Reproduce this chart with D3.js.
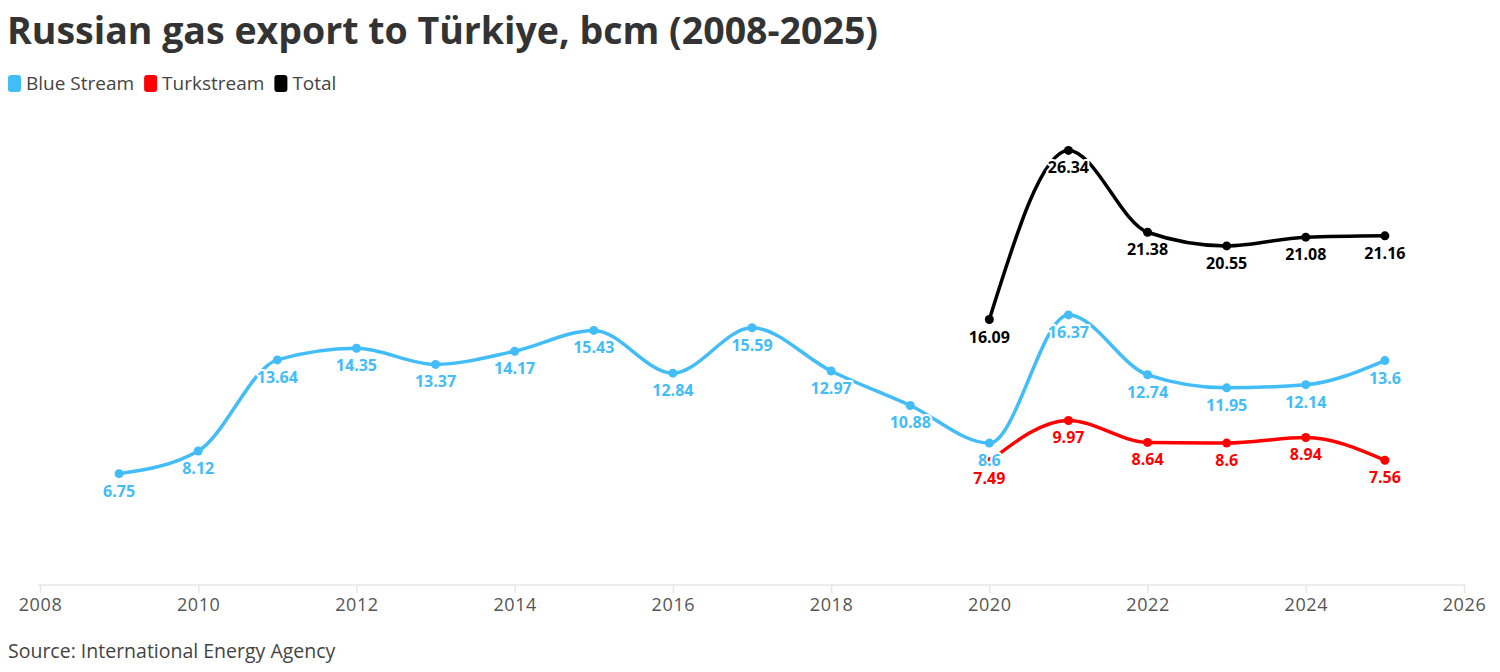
<!DOCTYPE html>
<html>
<head>
<meta charset="utf-8">
<script src="https://cdn.jsdelivr.net/npm/d3@7"></script>
<style>
  body { margin: 0; background: #fff; font-family: "Open Sans", sans-serif; }
  svg text { font-family: "Open Sans", sans-serif; }
</style>
</head>
<body>
<main></main>
<script>
// data
const blueYears = [2009, 2010, 2011, 2012, 2013, 2014, 2015, 2016, 2017, 2018, 2019, 2020, 2021, 2022, 2023, 2024, 2025];
const blueStream = [6.75, 8.12, 13.64, 14.35, 13.37, 14.17, 15.43, 12.84, 15.59, 12.97, 10.88, 8.6, 16.37, 12.74, 11.95, 12.14, 13.6];
const turkYears = [2020, 2021, 2022, 2023, 2024, 2025];
const turkstream = [7.49, 9.97, 8.64, 8.6, 8.94, 7.56];
const total = [16.09, 26.34, 21.38, 20.55, 21.08, 21.16];
const xTicks = [2008, 2010, 2012, 2014, 2016, 2018, 2020, 2022, 2024, 2026];

const width = 1500, height = 672;

const svg = d3.select("main")
  .append("svg")
  .attr("width", width)
  .attr("height", height);

//title
svg.append("text")
  .attr("x", 7)
  .attr("y", 44)
  .attr("font-size", "37.5px")
  .attr("font-weight", "bold")
  .attr("fill", "#333")
  .text("Russian gas export to Türkiye, bcm (2008-2025)");

// series
const series = [
  { name: "Blue Stream", color: "#42bdf8", years: blueYears, values: blueStream },
  { name: "Turkstream", color: "#ff0000", years: turkYears, values: turkstream },
  { name: "Total", color: "#000000", years: turkYears, values: total }
];

//legend
let lx = 8;
series.forEach(s => {
  const g = svg.append("g").attr("transform", "translate(" + lx + ",75)");
  g.append("rect")
    .attr("width", 13).attr("height", 17).attr("rx", 3)
    .attr("fill", s.color);
  const t = g.append("text")
    .attr("x", 18).attr("y", 15)
    .attr("font-size", "19px")
    .attr("fill", "#444")
    .text(s.name);
  lx += 18 + t.node().getComputedTextLength() + 10;
});

const x = d3.scaleLinear().domain([2008, 2026]).range([40, 1464]);
const y = d3.scaleLinear().domain([0, 30]).range([585, 90]);

// axis
const xAxis = svg.append("g")
  .attr("transform", "translate(0,585)")
  .call(d3.axisBottom(x).tickValues(xTicks).tickFormat(d3.format("d")).tickSize(8).tickPadding(5));
xAxis.select(".domain").attr("stroke", "#e6e6e6").attr("stroke-width", 1.5)
  .attr("d", "M" + (x.range()[0] - 2) + ",0H" + (x.range()[1] + 2));
xAxis.selectAll(".tick line").attr("stroke", "#e6e6e6").attr("stroke-width", 1.5);
xAxis.selectAll(".tick text")
  .attr("font-size", "18px")
  .attr("fill", "#555")
  .attr("letter-spacing", "0.6px")
  .style("font-family", "'Open Sans', sans-serif");

const line = d3.line()
  .x(d => x(d[0]))
  .y(d => y(d[1]))
  .curve(d3.curveMonotoneX);

series.forEach(s => {
  const pts = s.years.map((yr, i) => [yr, s.values[i]]);
  svg.append("path")
    .datum(pts)
    .attr("d", line)
    .attr("fill", "none")
    .attr("stroke", s.color)
    .attr("stroke-width", 3.5)
    .attr("stroke-linecap", "round");
  svg.selectAll(null)
    .data(pts)
    .enter()
    .append("circle")
    .attr("cx", d => x(d[0]))
    .attr("cy", d => y(d[1]))
    .attr("r", 4.5)
    .attr("fill", s.color);
});

// labels on top
series.forEach(s => {
  const pts = s.years.map((yr, i) => [yr, s.values[i]]);
  svg.selectAll(null)
    .data(pts)
    .enter()
    .append("text")
    .attr("x", d => x(d[0]))
    .attr("y", d => y(d[1]) + 23)
    .attr("text-anchor", "middle")
    .attr("font-size", "16px")
    .attr("font-weight", "bold")
    .attr("fill", s.color)
    .attr("stroke", "#fff")
    .attr("stroke-width", 4)
    .attr("stroke-linejoin", "round")
    .attr("paint-order", "stroke")
    .text(d => d[1]);
});

// source
svg.append("text")
  .attr("x", 8)
  .attr("y", 658)
  .attr("font-size", "19.5px")
  .attr("fill", "#444")
  .text("Source: International Energy Agency");
</script>
</body>
</html>
